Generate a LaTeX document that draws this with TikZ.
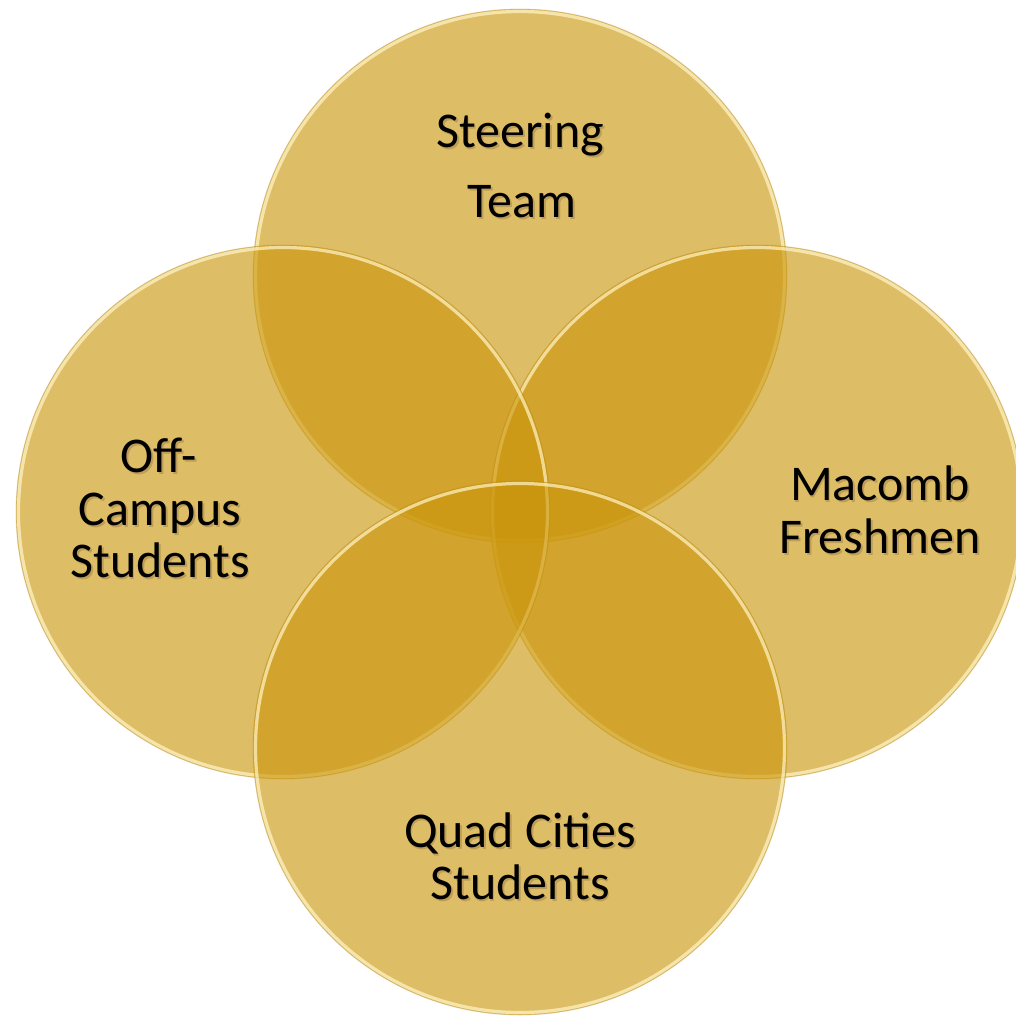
\documentclass[tikz,border=0pt]{standalone}
\usepackage{fontspec}
\setmainfont{Carlito}
\definecolor{gold}{RGB}{203,149,11}
\definecolor{rimlight}{RGB}{255,246,200}
\definecolor{rimdark}{RGB}{170,130,40}
\definecolor{txtshadow}{RGB}{190,158,86}
% text with a soft drop shadow
\newcommand\shtext[1]{\leavevmode\rlap{\hspace{1.4pt}\raisebox{-2pt}{\color{txtshadow}#1}}#1}
\tikzset{
  ring/.style={fill=gold, fill opacity=0.62, draw=none},
  rimin/.style={draw=rimlight, draw opacity=0.7, line width=2.4pt},
  rimout/.style={draw=rimdark, draw opacity=0.25, line width=0.6pt},
  lbl/.style={anchor=base, inner sep=0pt, font=\fontsize{37.5}{39}\selectfont, text=black}
}
\begin{document}
\begin{tikzpicture}[x=0.75pt,y=-0.75pt]
\useasboundingbox (0,0) rectangle (1016,1018);
\fill[white] (0,0) rectangle (1016,1018);
\def\R{267}
% the four overlapping circles
\foreach \cx/\cy in {520/276, 757/512, 283/512, 520/748}{
  \path[ring] (\cx,\cy) circle (\R);
  \path[rimout] (\cx,\cy) circle (\R);
  \path[rimin] (\cx,\cy) circle (\R-2.5);
}
% labels
\node[lbl] (steering) at (520,147) {\shtext{Steering}};
\node[lbl] (team) at (522,217) {\shtext{Team}};
\node[lbl] (off) at (159,472) {\shtext{Off-}};
\node[lbl] (campus) at (160,525) {\shtext{Campus}};
\node[lbl] (students1) at (160,577) {\shtext{Students}};
\node[lbl] (macomb) at (880,500) {\shtext{Macomb}};
\node[lbl] (freshmen) at (880,553) {\shtext{Freshmen}};
\node[lbl] (quad) at (520,847) {\shtext{Quad Cities}};
\node[lbl] (students2) at (520,899) {\shtext{Students}};
\end{tikzpicture}
\end{document}
